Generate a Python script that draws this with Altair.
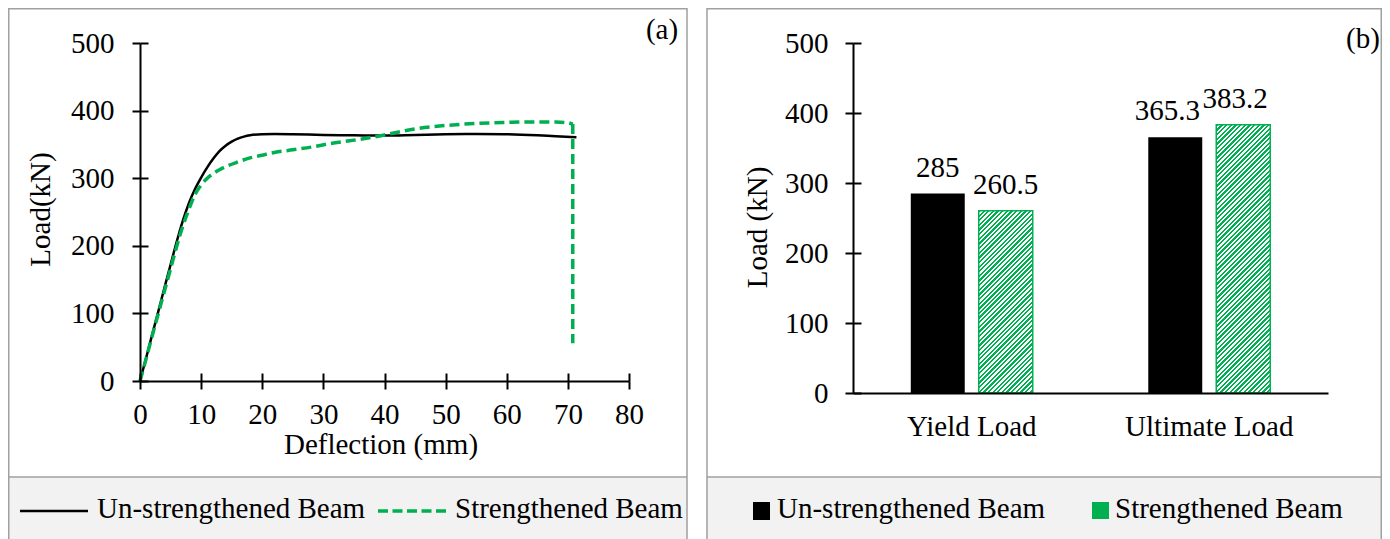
import math
import altair as alt
import pandas as pd

# ---------------- data ----------------
unstr_defl = [0, 1, 2, 3, 4, 5, 6, 7, 8, 9, 10, 11, 12, 13, 14, 15, 16, 17, 18, 20,
              22, 25, 30, 35, 40, 45, 50, 55, 60, 65, 68, 71.4]
unstr_load = [0, 34, 69, 103, 138, 172, 206, 237, 263, 284, 301, 316, 329, 340, 348, 354, 358.5, 361.5, 363.5, 365,
              365.3, 365, 364, 363.5, 363, 364, 365, 365.3, 365, 363.5, 362, 360.5]

str_defl = [0, 1, 2, 3, 4, 5, 6, 7, 8, 9, 10, 11, 12, 13, 14, 16, 18, 20, 22, 25,
            28, 31, 34, 37, 40, 45, 50, 55, 60, 63, 66, 68, 70, 70.8, 70.8]
str_load = [0, 33, 67, 100, 133, 166, 199, 229, 254, 276, 290, 300, 307, 312.5, 317, 324, 330, 334, 338, 342,
            346, 351, 355, 359, 364, 373, 378, 381, 382.5, 383.2, 383.2, 383, 382, 380, 56]

series = ["Un-strengthened Beam", "Strengthened Beam"]
categories = ["Yield Load", "Ultimate Load"]
unstr_bar = [285, 365.3]
str_bar = [260.5, 383.2]

x_ticks = [0, 10, 20, 30, 40, 50, 60, 70, 80]
y_ticks = [0, 100, 200, 300, 400, 500]

# ---------------- style / layout ----------------
FONT = "Liberation Serif"
FS = 29
GREEN = "#00b050"
GRAY = "#a0a0a0"
BAND = "#f2f2f2"
W, H = 1374, 531

LX0, LX1 = 132, 621
LY0, LY1 = 373, 35
RX0, RX1 = 845, 1320
RY0, RY1 = 385, 35
P_IN, P_OUT = 0.206, 0.85

n_u, n_s = len(unstr_defl), len(str_defl)
lines_df = pd.concat([
    pd.DataFrame({"series": series[0], "defl": unstr_defl, "load": unstr_load,
                  "idx": list(range(n_u))}),
    pd.DataFrame({"series": series[1], "defl": str_defl, "load": str_load,
                  "idx": list(range(n_s))}),
], ignore_index=True)

bars_df = pd.DataFrame({
    "cat": categories * 2,
    "series": [series[0]] * 2 + [series[1]] * 2,
    "load": unstr_bar + str_bar,
})
bars_df["label"] = [f"{v:g}" for v in bars_df["load"]]

one = pd.DataFrame({"k": [0]})

ax_common = dict(domainColor="black", domainWidth=2, tickColor="black", tickWidth=2,
                 labelColor="black", labelFont=FONT, labelFontSize=FS,
                 titleFont=FONT, titleFontSize=FS, titleColor="black",
                 titleFontWeight="normal", grid=False, zindex=1)

# ---------------- left panel ----------------
lx_scale = alt.Scale(domain=[0, 80], range=[LX0, LX1], nice=False, zero=False)
ly_scale = alt.Scale(domain=[0, 500], range=[LY0, LY1], nice=False)

lx_axis = alt.Axis(orient="bottom", offset=LY0 - H, values=x_ticks, tickSize=8, labelPadding=11,
                   labelFlush=False, labelOverlap=False, title="Deflection (mm)",
                   titleX=372.5, titleY=72, titleBaseline="alphabetic", titleAlign="center",
                   **ax_common)
ly_axis = alt.Axis(orient="left", offset=-LX0, values=y_ticks, tickSize=8, labelPadding=18,
                   labelOverlap=False, title="Load(kN)", titleX=-100, titleY=201, titleAngle=270,
                   titleBaseline="middle", titleAlign="center", **ax_common)

black_line = alt.Chart(lines_df).transform_filter(
    alt.datum.series == series[0]
).mark_line(color="black", strokeWidth=2.5, interpolate="monotone").encode(
    x=alt.X("defl:Q", scale=lx_scale, axis=lx_axis),
    y=alt.Y("load:Q", scale=ly_scale, axis=ly_axis),
    order="idx:Q",
)
green_curve = alt.Chart(lines_df).transform_filter(
    (alt.datum.series == series[1]) & (alt.datum.idx < n_s - 1)
).mark_line(color=GREEN, strokeWidth=3.5, strokeDash=[10, 5], interpolate="monotone").encode(
    x=alt.X("defl:Q", scale=lx_scale, axis=None),
    y=alt.Y("load:Q", scale=ly_scale, axis=None),
    order="idx:Q",
)
green_drop = alt.Chart(lines_df).transform_filter(
    (alt.datum.series == series[1]) & (alt.datum.idx >= n_s - 2)
).mark_line(color=GREEN, strokeWidth=3.5, strokeDash=[10, 5]).encode(
    x=alt.X("defl:Q", scale=lx_scale, axis=None),
    y=alt.Y("load:Q", scale=ly_scale, axis=None),
    order="idx:Q",
)
ghost_left = alt.Chart(lines_df).transform_filter(
    alt.datum.series == series[0]
).mark_line(strokeOpacity=0).encode(
    x=alt.X("defl:Q", scale=lx_scale,
            axis=alt.Axis(orient="top", offset=-LY0, values=x_ticks, tickSize=8, labels=False,
                          domain=False, title=None, tickColor="black", tickWidth=2, zindex=1)),
    y=alt.Y("load:Q", scale=ly_scale,
            axis=alt.Axis(orient="right", offset=LX0 - W, values=y_ticks, tickSize=8, labels=False,
                          domain=False, title=None, tickColor="black", tickWidth=2, zindex=1)),
    order="idx:Q",
)
left_group = alt.layer(black_line, green_curve, green_drop, ghost_left).resolve_axis(
    x="independent", y="independent")

# ---------------- right panel ----------------
rx_scale = alt.Scale(range=[RX0, RX1], paddingInner=0, paddingOuter=0)
ry_scale = alt.Scale(domain=[0, 500], range=[RY0, RY1], nice=False)
off_scale = alt.Scale(domain=series, paddingInner=P_IN, paddingOuter=P_OUT)

rx_axis = alt.Axis(orient="bottom", offset=RY0 - H, ticks=False, tickSize=0, labelPadding=19,
                   labelAngle=0, title=None, **ax_common)
ry_axis = alt.Axis(orient="left", offset=-RX0, values=y_ticks, tickSize=8, labelPadding=17,
                   labelOverlap=False, title="Load (kN)", titleX=-96, titleY=219, titleAngle=270,
                   titleBaseline="middle", titleAlign="center", **ax_common)

band = (RX1 - RX0) / len(categories)
step = band / (len(series) - P_IN + 2 * P_OUT)
bar_w = step * (1 - P_IN)
px_per_unit = (RY0 - RY1) / 500.0


def hatch(value, period=3.3):
    bw = bar_w
    bh = value * px_per_unit
    s = bw * bw + bh * bh
    n = max(1, int(round((bw + bh) / math.sqrt(2) / period)))
    stops = []
    for k in range(n):
        a, b, c = k / n, (k + 0.5) / n, (k + 1) / n
        stops += [{"offset": a, "color": GREEN}, {"offset": b, "color": GREEN},
                  {"offset": b, "color": "#ffffff"}, {"offset": c, "color": "#ffffff"}]
    return {"gradient": "linear", "x1": 0, "y1": 0,
            "x2": bw * (bw + bh) / s, "y2": bh * (bw + bh) / s, "stops": stops}


def enc(x_axis=None, y_axis=None):
    return dict(
        x=alt.X("cat:N", sort=categories, scale=rx_scale, axis=x_axis),
        xOffset=alt.XOffset("series:N", sort=series, scale=off_scale),
        y=alt.Y("load:Q", scale=ry_scale, axis=y_axis),
    )


black_bars = alt.Chart(bars_df).transform_filter(
    alt.datum.series == series[0]
).mark_bar(color="black").encode(**enc(rx_axis, ry_axis))

green_bars = []
for cat, val in zip(categories, str_bar):
    green_bars.append(
        alt.Chart(bars_df).transform_filter(
            (alt.datum.series == series[1]) & (alt.datum.cat == cat)
        ).mark_bar(fill=hatch(val), stroke=GREEN, strokeWidth=1.5).encode(**enc())
    )

label_layers = []
for cat, shift in zip(categories, [0, -8]):
    label_layers.append(
        alt.Chart(bars_df).transform_filter(alt.datum.cat == cat).mark_text(
            font=FONT, fontSize=FS, color="black", baseline="alphabetic", dy=-17, dx=shift
        ).encode(text="label:N", **enc())
    )

ghost_right = alt.Chart(bars_df).mark_bar(opacity=0).encode(
    **enc(None, alt.Axis(orient="right", offset=RX0 - W, values=y_ticks, tickSize=8, labels=False,
                         domain=False, title=None, tickColor="black", tickWidth=2, zindex=1))
)

right_group = alt.layer(black_bars, *green_bars, *label_layers, ghost_right).resolve_axis(
    x="independent", y="independent")

# ---------------- frames & legends ----------------
def rect(x, x2, y, y2, **kw):
    return alt.Chart(one).mark_rect(**kw).encode(
        x=alt.value(x), x2=alt.value(x2), y=alt.value(y), y2=alt.value(y2))


def hrule(x, x2, y, **kw):
    return alt.Chart(one).mark_rule(**kw).encode(x=alt.value(x), x2=alt.value(x2), y=alt.value(y))


def label(txt, x, y, align="left"):
    return alt.Chart(one).mark_text(font=FONT, fontSize=FS, color="black", align=align,
                                    baseline="alphabetic", text=txt).encode(
        x=alt.value(x), y=alt.value(y))


BAND_Y = 469
RF1 = W - 0.75
decor = [
    rect(0.75, 679, BAND_Y, 560, fill=BAND),
    rect(699, RF1, BAND_Y, 560, fill=BAND),
    hrule(0.75, 679, BAND_Y, color=GRAY, strokeWidth=1.5),
    hrule(699, RF1, BAND_Y, color=GRAY, strokeWidth=1.5),
    rect(0.75, 679, 0.75, 560, fillOpacity=0, stroke=GRAY, strokeWidth=1.5),
    rect(699, RF1, 0.75, 560, fillOpacity=0, stroke=GRAY, strokeWidth=1.5),
]

legend = [
    hrule(12, 80, 503, color="black", strokeWidth=2.5),
    label(series[0], 89, 510),
    hrule(370, 440, 503, color=GREEN, strokeWidth=3.5, strokeDash=[10, 4.5]),
    label(series[1], 447, 510),
    rect(745, 762, 494, 512, fill="black"),
    label(series[0], 769, 510),
    rect(1084, 1101, 494, 511, fill=GREEN),
    label(series[1], 1107, 510),
    label("(a)", 654, 31, align="center"),
    label("(b)", 1355, 40, align="center"),
]

chart = alt.layer(*decor, left_group, right_group, *legend).resolve_scale(
    x="independent", y="independent"
).properties(
    width=W, height=H, padding=0,
    autosize=alt.AutoSizeParams(type="none"),
    background="white",
).configure_view(strokeOpacity=0)

chart.save("out.html", embed_options={"renderer": "svg", "actions": False})
